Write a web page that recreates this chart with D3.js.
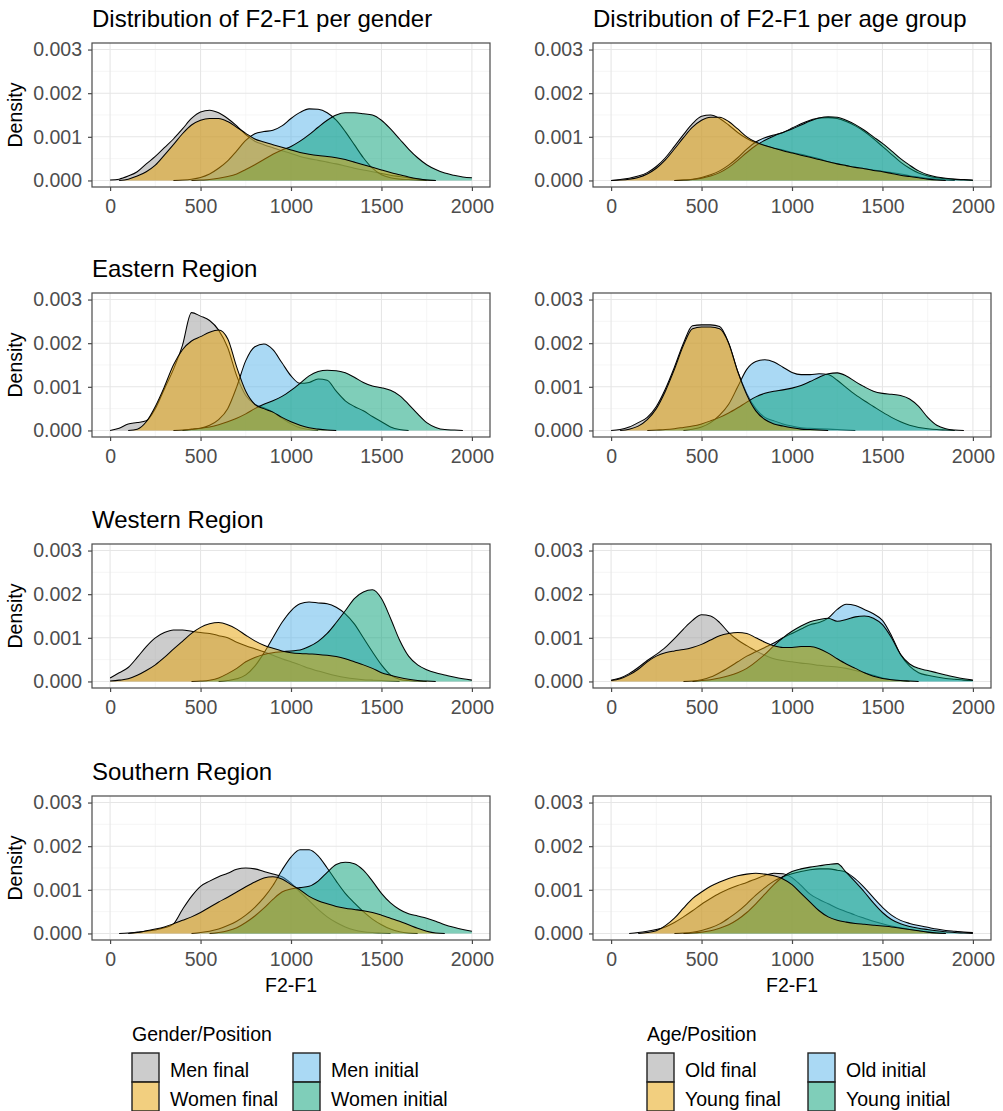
<!DOCTYPE html>
<html>
<head>
<meta charset="utf-8">
<script src="https://cdn.jsdelivr.net/npm/d3@7"></script>
<style>
  body { margin: 0; background: #fff; }
  svg { display: block; }
  text { font-family: "Liberation Sans", Arial, sans-serif; }
</style>
</head>
<body>
<svg id="chart" width="1003" height="1111"></svg>
<script>
// F2-F1 sample points (Hz) where the densities were read
const f2f1 = [0, 50, 100, 150, 200, 250, 300, 350, 400, 450,
  500, 550, 600, 650, 700, 750, 800, 850, 900, 950,
  1000, 1050, 1100, 1150, 1200, 1250, 1300, 1350, 1400, 1450,
  1500, 1550, 1600, 1650, 1700, 1750, 1800, 1850, 1900, 1950, 2000];

// densities, in units of 0.001
// --- per gender, all regions
const allMenFinal = [0.01, 0.03, 0.1, 0.2, 0.38, 0.55, 0.75, 0.95, 1.18, 1.42,
  1.57, 1.61, 1.55, 1.42, 1.25, 1.05, 0.9, 0.82, 0.75, 0.68,
  0.62, 0.55, 0.5, 0.46, 0.42, 0.38, 0.33, 0.28, 0.24, 0.2,
  0.16, 0.12, 0.09, 0.06, 0.03, 0.01, 0, 0, 0, 0, 0];
const allWomenFinal = [0, 0, 0.03, 0.1, 0.2, 0.35, 0.58, 0.82, 1.07, 1.27,
  1.38, 1.42, 1.42, 1.35, 1.22, 1.08, 0.95, 0.88, 0.82, 0.76,
  0.7, 0.64, 0.6, 0.57, 0.55, 0.52, 0.48, 0.42, 0.36, 0.3,
  0.24, 0.18, 0.13, 0.08, 0.04, 0.01, 0, 0, 0, 0, 0];
const allMenInitial = [0, 0, 0, 0, 0, 0, 0, 0, 0.01, 0.03,
  0.07, 0.15, 0.28, 0.45, 0.68, 0.92, 1.07, 1.12, 1.15, 1.25,
  1.42, 1.56, 1.64, 1.63, 1.55, 1.38, 1.12, 0.82, 0.52, 0.28,
  0.13, 0.06, 0.03, 0.02, 0.01, 0, 0, 0, 0, 0, 0];
const allWomenInitial = [0, 0, 0, 0, 0, 0, 0, 0, 0, 0,
  0.01, 0.02, 0.05, 0.09, 0.15, 0.25, 0.36, 0.48, 0.6, 0.7,
  0.78, 0.9, 1.05, 1.22, 1.38, 1.5, 1.55, 1.55, 1.53, 1.5,
  1.38, 1.18, 0.95, 0.72, 0.52, 0.36, 0.25, 0.17, 0.12, 0.08, 0.06];

// --- per age group, all regions
const allOldFinal = [0, 0.02, 0.05, 0.1, 0.18, 0.32, 0.52, 0.78, 1.05, 1.3,
  1.47, 1.5, 1.42, 1.27, 1.1, 0.96, 0.86, 0.8, 0.74, 0.7,
  0.64, 0.6, 0.55, 0.5, 0.43, 0.38, 0.34, 0.3, 0.27, 0.24,
  0.21, 0.18, 0.15, 0.11, 0.08, 0.05, 0.03, 0.01, 0, 0, 0];
const allYoungFinal = [0, 0.01, 0.03, 0.07, 0.15, 0.28, 0.47, 0.72, 0.98, 1.22,
  1.38, 1.45, 1.45, 1.35, 1.18, 1.0, 0.88, 0.8, 0.74, 0.68,
  0.63, 0.58, 0.53, 0.48, 0.43, 0.38, 0.34, 0.3, 0.27, 0.23,
  0.2, 0.16, 0.12, 0.09, 0.06, 0.03, 0.01, 0, 0, 0, 0];
const allOldInitial = [0, 0, 0, 0, 0, 0, 0, 0, 0.01, 0.03,
  0.07, 0.13, 0.22, 0.35, 0.52, 0.72, 0.88, 0.98, 1.04, 1.1,
  1.2, 1.3, 1.38, 1.43, 1.44, 1.42, 1.35, 1.25, 1.12, 0.96,
  0.78, 0.6, 0.42, 0.28, 0.17, 0.1, 0.06, 0.04, 0.02, 0.01, 0];
const allYoungInitial = [0, 0, 0, 0, 0, 0, 0, 0, 0.01, 0.02,
  0.05, 0.1, 0.18, 0.3, 0.46, 0.64, 0.8, 0.92, 1.02, 1.1,
  1.18, 1.27, 1.36, 1.43, 1.46, 1.45, 1.38, 1.28, 1.15, 1.0,
  0.85, 0.68, 0.5, 0.35, 0.22, 0.13, 0.08, 0.05, 0.03, 0.02, 0.01];

// --- Eastern region, gender
const eastMenFinal = [0, 0.05, 0.15, 0.18, 0.22, 0.5, 0.95, 1.4, 1.95, 2.7,
  2.62, 2.52, 2.3, 1.9, 1.25, 0.8, 0.6, 0.52, 0.42, 0.28,
  0.15, 0.06, 0.02, 0, 0, 0, 0, 0, 0, 0,
  0, 0, 0, 0, 0, 0, 0, 0, 0, 0, 0];
const eastWomenFinal = [0, 0, 0, 0.03, 0.2, 0.55, 1.0, 1.5, 1.85, 2.05,
  2.15, 2.25, 2.3, 2.1, 1.45, 0.9, 0.6, 0.5, 0.42, 0.3,
  0.2, 0.12, 0.06, 0.03, 0.01, 0, 0, 0, 0, 0,
  0, 0, 0, 0, 0, 0, 0, 0, 0, 0, 0];
const eastMenInitial = [0, 0, 0, 0, 0, 0, 0, 0, 0, 0.02,
  0.05, 0.12, 0.25, 0.5, 1.0, 1.6, 1.92, 1.98, 1.85, 1.55,
  1.25, 1.08, 1.1, 1.18, 1.15, 0.9, 0.68, 0.55, 0.45, 0.32,
  0.2, 0.08, 0.02, 0, 0, 0, 0, 0, 0, 0, 0];
const eastWomenInitial = [0, 0, 0, 0, 0, 0, 0, 0, 0.01, 0.03,
  0.05, 0.08, 0.13, 0.2, 0.28, 0.38, 0.5, 0.6, 0.68, 0.78,
  0.92, 1.08, 1.25, 1.35, 1.38, 1.37, 1.32, 1.22, 1.1, 1.02,
  0.98, 0.92, 0.8, 0.6, 0.38, 0.18, 0.07, 0.02, 0.01, 0, 0];

// --- Eastern region, age
const eastOldFinal = [0, 0.02, 0.08, 0.18, 0.3, 0.55, 0.95, 1.45, 2.0, 2.4,
  2.42, 2.42, 2.38, 2.0, 1.35, 0.85, 0.5, 0.3, 0.22, 0.15,
  0.1, 0.06, 0.05, 0.04, 0.03, 0.02, 0.01, 0, 0, 0,
  0, 0, 0, 0, 0, 0, 0, 0, 0, 0, 0];
const eastYoungFinal = [0, 0, 0.03, 0.1, 0.25, 0.5, 0.9, 1.4, 1.95, 2.33,
  2.37, 2.37, 2.33, 2.0, 1.35, 0.82, 0.45, 0.25, 0.15, 0.1,
  0.06, 0.03, 0.02, 0.01, 0, 0, 0, 0, 0, 0,
  0, 0, 0, 0, 0, 0, 0, 0, 0, 0, 0];
const eastOldInitial = [0, 0, 0, 0, 0, 0, 0, 0, 0, 0.03,
  0.08, 0.18, 0.35, 0.6, 1.0, 1.4, 1.58, 1.62, 1.57, 1.45,
  1.33, 1.28, 1.28, 1.3, 1.28, 1.15, 0.98, 0.82, 0.68, 0.55,
  0.42, 0.3, 0.2, 0.12, 0.07, 0.04, 0.02, 0.01, 0, 0, 0];
const eastYoungInitial = [0, 0, 0, 0, 0, 0.01, 0.02, 0.04, 0.07, 0.1,
  0.15, 0.22, 0.3, 0.4, 0.52, 0.65, 0.77, 0.85, 0.9, 0.93,
  0.97, 1.03, 1.12, 1.22, 1.3, 1.32, 1.25, 1.12, 1.0, 0.9,
  0.85, 0.83, 0.8, 0.72, 0.55, 0.3, 0.12, 0.04, 0.01, 0, 0];

// --- Western region, gender
const westMenFinal = [0.08, 0.2, 0.32, 0.55, 0.8, 1.0, 1.12, 1.18, 1.18, 1.15,
  1.12, 1.1, 1.05, 1.0, 0.9, 0.82, 0.75, 0.68, 0.6, 0.52,
  0.45, 0.38, 0.3, 0.24, 0.18, 0.13, 0.09, 0.06, 0.04, 0.03,
  0.02, 0.01, 0, 0, 0, 0, 0, 0, 0, 0, 0];
const westWomenFinal = [0.01, 0.03, 0.06, 0.14, 0.25, 0.38, 0.55, 0.74, 0.92, 1.1,
  1.24, 1.32, 1.35, 1.3, 1.2, 1.06, 0.93, 0.83, 0.76, 0.7,
  0.66, 0.64, 0.63, 0.62, 0.6, 0.57, 0.52, 0.45, 0.38, 0.3,
  0.2, 0.14, 0.09, 0.05, 0.02, 0.01, 0, 0, 0, 0, 0];
const westMenInitial = [0, 0, 0, 0, 0, 0, 0, 0, 0, 0,
  0, 0, 0, 0.02, 0.06, 0.15, 0.35, 0.65, 1.0, 1.35,
  1.62, 1.78, 1.82, 1.8, 1.78, 1.7, 1.55, 1.32, 1.0, 0.68,
  0.38, 0.15, 0.05, 0.02, 0.01, 0, 0, 0, 0, 0, 0];
const westWomenInitial = [0, 0, 0, 0, 0, 0, 0, 0, 0, 0,
  0.01, 0.03, 0.08, 0.18, 0.3, 0.45, 0.55, 0.62, 0.66, 0.68,
  0.7, 0.72, 0.8, 0.92, 1.1, 1.35, 1.62, 1.9, 2.05, 2.1,
  1.9, 1.45, 0.95, 0.58, 0.38, 0.27, 0.2, 0.15, 0.1, 0.06, 0.03];

// --- Western region, age
const westOldFinal = [0.03, 0.08, 0.18, 0.32, 0.48, 0.62, 0.78, 0.98, 1.2, 1.4,
  1.53, 1.5, 1.35, 1.12, 0.95, 0.82, 0.7, 0.6, 0.52, 0.48,
  0.45, 0.42, 0.4, 0.37, 0.35, 0.33, 0.3, 0.25, 0.2, 0.14,
  0.08, 0.04, 0.02, 0, 0, 0, 0, 0, 0, 0, 0];
const westYoungFinal = [0.02, 0.06, 0.15, 0.28, 0.45, 0.58, 0.66, 0.7, 0.73, 0.78,
  0.85, 0.95, 1.05, 1.1, 1.12, 1.1, 1.0, 0.9, 0.82, 0.78,
  0.78, 0.8, 0.8, 0.75, 0.65, 0.52, 0.4, 0.3, 0.2, 0.12,
  0.07, 0.04, 0.02, 0.01, 0, 0, 0, 0, 0, 0, 0];
const westOldInitial = [0, 0, 0, 0, 0, 0, 0, 0, 0, 0.01,
  0.04, 0.1, 0.2, 0.32, 0.45, 0.58, 0.68, 0.78, 0.88, 1.0,
  1.1, 1.2, 1.3, 1.35, 1.45, 1.65, 1.77, 1.74, 1.65, 1.55,
  1.4, 1.05, 0.62, 0.35, 0.2, 0.14, 0.1, 0.07, 0.05, 0.03, 0.02];
const westYoungInitial = [0, 0, 0, 0, 0, 0, 0, 0, 0, 0,
  0.02, 0.04, 0.08, 0.13, 0.2, 0.3, 0.45, 0.62, 0.82, 1.0,
  1.15, 1.27, 1.37, 1.42, 1.45, 1.38, 1.42, 1.48, 1.5, 1.45,
  1.3, 1.0, 0.62, 0.4, 0.3, 0.25, 0.2, 0.15, 0.1, 0.06, 0.03];

// --- Southern region, gender
const southMenFinal = [0, 0, 0.01, 0.03, 0.05, 0.08, 0.13, 0.22, 0.55, 0.85,
  1.08, 1.2, 1.3, 1.38, 1.47, 1.5, 1.48, 1.42, 1.36, 1.3,
  1.15, 0.95, 0.75, 0.55, 0.38, 0.25, 0.15, 0.08, 0.04, 0.02,
  0.01, 0, 0, 0, 0, 0, 0, 0, 0, 0, 0];
const southWomenFinal = [0, 0, 0, 0.02, 0.06, 0.1, 0.15, 0.22, 0.3, 0.38,
  0.48, 0.6, 0.72, 0.83, 0.95, 1.07, 1.18, 1.27, 1.3, 1.25,
  1.12, 1.0, 0.85, 0.75, 0.68, 0.62, 0.58, 0.55, 0.52, 0.48,
  0.42, 0.35, 0.28, 0.2, 0.12, 0.05, 0.01, 0, 0, 0, 0];
const southMenInitial = [0, 0, 0, 0, 0, 0, 0, 0, 0, 0,
  0.02, 0.05, 0.1, 0.18, 0.28, 0.42, 0.6, 0.82, 1.1, 1.45,
  1.75, 1.92, 1.92, 1.78, 1.5, 1.2, 0.92, 0.7, 0.5, 0.33,
  0.2, 0.1, 0.04, 0.01, 0, 0, 0, 0, 0, 0, 0];
const southWomenInitial = [0, 0, 0, 0, 0, 0, 0, 0, 0, 0,
  0, 0, 0.02, 0.06, 0.13, 0.25, 0.4, 0.58, 0.78, 0.95,
  1.02, 1.05, 1.08, 1.2, 1.4, 1.58, 1.63, 1.6, 1.45, 1.2,
  0.92, 0.7, 0.55, 0.45, 0.4, 0.35, 0.28, 0.2, 0.14, 0.09, 0.05];

// --- Southern region, age
const southOldFinal = [0, 0, 0, 0.02, 0.05, 0.09, 0.15, 0.25, 0.38, 0.52,
  0.67, 0.8, 0.92, 1.02, 1.1, 1.17, 1.25, 1.33, 1.38, 1.37,
  1.28, 1.1, 0.9, 0.78, 0.68, 0.58, 0.5, 0.42, 0.35, 0.28,
  0.22, 0.17, 0.13, 0.09, 0.06, 0.03, 0.01, 0, 0, 0, 0];
const southYoungFinal = [0, 0, 0, 0, 0.02, 0.06, 0.18, 0.35, 0.58, 0.8,
  0.95, 1.08, 1.18, 1.26, 1.32, 1.36, 1.38, 1.36, 1.32, 1.25,
  1.12, 0.92, 0.72, 0.52, 0.38, 0.3, 0.26, 0.23, 0.21, 0.19,
  0.17, 0.15, 0.12, 0.09, 0.06, 0.03, 0.01, 0, 0, 0, 0];
const southOldInitial = [0, 0, 0, 0, 0, 0, 0, 0, 0.01, 0.03,
  0.07, 0.13, 0.22, 0.35, 0.5, 0.68, 0.88, 1.05, 1.2, 1.3,
  1.37, 1.42, 1.46, 1.48, 1.48, 1.45, 1.4, 1.25, 1.05, 0.82,
  0.6, 0.42, 0.3, 0.23, 0.18, 0.14, 0.1, 0.07, 0.05, 0.03, 0.02];
const southYoungInitial = [0, 0, 0, 0, 0, 0, 0, 0, 0, 0.01,
  0.03, 0.06, 0.12, 0.2, 0.32, 0.48, 0.68, 0.9, 1.12, 1.3,
  1.42, 1.48, 1.52, 1.55, 1.58, 1.6, 1.4, 1.18, 0.95, 0.7,
  0.48, 0.32, 0.22, 0.16, 0.12, 0.09, 0.06, 0.04, 0.02, 0.01, 0];

// legend order (column-wise) and colours
const genderKeys = ['Men final', 'Women final', 'Men initial', 'Women initial'];
const ageKeys = ['Old final', 'Young final', 'Old initial', 'Young initial'];
const fillColors = ['#999999', '#E69F00', '#56B4E9', '#009E73'];
// painting order of the groups: the second "final" group ends up on top
const drawOrder = [0, 2, 3, 1];
const xTicks = [0, 500, 1000, 1500, 2000];
const yTicks = [0, 0.001, 0.002, 0.003];

const panels = [
  { row: 0, col: 0, title: 'Distribution of F2-F1 per gender', series: [allMenFinal, allWomenFinal, allMenInitial, allWomenInitial] },
  { row: 0, col: 1, title: 'Distribution of F2-F1 per age group', series: [allOldFinal, allYoungFinal, allOldInitial, allYoungInitial] },
  { row: 1, col: 0, title: 'Eastern Region', series: [eastMenFinal, eastWomenFinal, eastMenInitial, eastWomenInitial] },
  { row: 1, col: 1, title: '', series: [eastOldFinal, eastYoungFinal, eastOldInitial, eastYoungInitial] },
  { row: 2, col: 0, title: 'Western Region', series: [westMenFinal, westWomenFinal, westMenInitial, westWomenInitial] },
  { row: 2, col: 1, title: '', series: [westOldFinal, westYoungFinal, westOldInitial, westYoungInitial] },
  { row: 3, col: 0, title: 'Southern Region', series: [southMenFinal, southWomenFinal, southMenInitial, southWomenInitial] },
  { row: 3, col: 1, title: '', series: [southOldFinal, southYoungFinal, southOldInitial, southYoungInitial] }
];

// layout
const colLeft = [92, 593];
const panelW = 398;
const rowTop = [43, 293, 544, 796];
const panelH = 144;

const svg = d3.select('#chart');

panels.forEach((p) => {
  const left = colLeft[p.col];
  const top = rowTop[p.row];
  const x = d3.scaleLinear().domain([-100, 2100]).range([left, left + panelW]);
  const y = d3.scaleLinear().domain([-0.00015, 0.00315]).range([top + panelH, top]);
  const g = svg.append('g');

  // grid
  g.selectAll('.minor-x').data([250, 750, 1250, 1750]).enter().append('line')
    .attr('x1', (d) => x(d)).attr('x2', (d) => x(d))
    .attr('y1', top).attr('y2', top + panelH)
    .style('stroke', '#f2f2f2').style('stroke-width', 0.7);
  g.selectAll('.minor-y').data([0.0005, 0.0015, 0.0025]).enter().append('line')
    .attr('x1', left).attr('x2', left + panelW)
    .attr('y1', (d) => y(d)).attr('y2', (d) => y(d))
    .style('stroke', '#f2f2f2').style('stroke-width', 0.7);
  g.selectAll('.major-x').data(xTicks).enter().append('line')
    .attr('x1', (d) => x(d)).attr('x2', (d) => x(d))
    .attr('y1', top).attr('y2', top + panelH)
    .style('stroke', '#e6e6e6').style('stroke-width', 1.1);
  g.selectAll('.major-y').data(yTicks).enter().append('line')
    .attr('x1', left).attr('x2', left + panelW)
    .attr('y1', (d) => y(d)).attr('y2', (d) => y(d))
    .style('stroke', '#e6e6e6').style('stroke-width', 1.1);

  // densities
  drawOrder.forEach((i) => {
    const vals = p.series[i];
    let first = vals.findIndex((v) => v > 0);
    let last = vals.length - 1 - [...vals].reverse().findIndex((v) => v > 0);
    first = Math.max(0, first - 1);
    last = Math.min(vals.length - 1, last + 1);
    const pts = [];
    for (let k = first; k <= last; k++) pts.push({ x: f2f1[k], v: vals[k] * 0.001 });

    const area = d3.area().x((d) => x(d.x)).y0(y(0)).y1((d) => y(d.v)).curve(d3.curveMonotoneX);
    const line = d3.line().x((d) => x(d.x)).y((d) => y(d.v)).curve(d3.curveMonotoneX);
    g.append('path').attr('d', area(pts))
      .style('fill', fillColors[i]).style('fill-opacity', 0.5).style('stroke', 'none');
    g.append('path').attr('d', line(pts))
      .style('fill', 'none').style('stroke', '#000').style('stroke-width', 1.05);
  });

  // panel border
  g.append('rect').attr('x', left).attr('y', top).attr('width', panelW).attr('height', panelH)
    .style('fill', 'none').style('stroke', '#4a4a4a').style('stroke-width', 1.2);

  // axes
  const yAxis = g.append('g').attr('transform', `translate(${left},0)`)
    .call(d3.axisLeft(y).tickValues(yTicks).tickFormat(d3.format('.3f')).tickSize(4).tickPadding(6));
  const xAxis = g.append('g').attr('transform', `translate(0,${top + panelH})`)
    .call(d3.axisBottom(x).tickValues(xTicks).tickFormat(d3.format('d')).tickSize(4).tickPadding(8));
  [yAxis, xAxis].forEach((a) => {
    a.select('.domain').remove();
    a.selectAll('.tick line').style('stroke', '#4a4a4a').style('stroke-width', 1.2);
    a.selectAll('.tick text').style('fill', '#4d4d4d').style('font-size', '19.5px')
      .style('font-family', '"Liberation Sans", Arial, sans-serif');
  });

  if (p.title) {
    g.append('text').attr('x', left).attr('y', top - 16)
      .style('font-size', '24px').style('fill', '#000').text(p.title);
  }
  if (p.col === 0) {
    g.append('text')
      .attr('transform', `translate(22,${top + panelH / 2}) rotate(-90)`)
      .attr('text-anchor', 'middle').style('font-size', '19.5px').style('fill', '#000')
      .text('Density');
  }
  if (p.row === 3) {
    g.append('text').attr('x', left + panelW / 2).attr('y', top + panelH + 52)
      .attr('text-anchor', 'middle').style('font-size', '19.5px').style('fill', '#000')
      .text('F2-F1');
  }
});

// legends
function drawLegend(x0, title, keys) {
  const lg = svg.append('g');
  lg.append('text').attr('x', x0).attr('y', 1041).style('font-size', '19.5px').style('fill', '#000').text(title);
  keys.forEach((k, i) => {
    const col = Math.floor(i / 2);
    const row = i % 2;
    const kx = x0 + col * 161;
    const ky = 1053 + row * 29;
    lg.append('rect').attr('x', kx).attr('y', ky).attr('width', 27).attr('height', 29)
      .style('fill', fillColors[i]).style('fill-opacity', 0.5)
      .style('stroke', '#222').style('stroke-width', 1.4);
    lg.append('text').attr('x', kx + 38).attr('y', ky + 24)
      .style('font-size', '19.5px').style('fill', '#000').text(k);
  });
}
drawLegend(132, 'Gender/Position', genderKeys);
drawLegend(647, 'Age/Position', ageKeys);
</script>
</body>
</html>
